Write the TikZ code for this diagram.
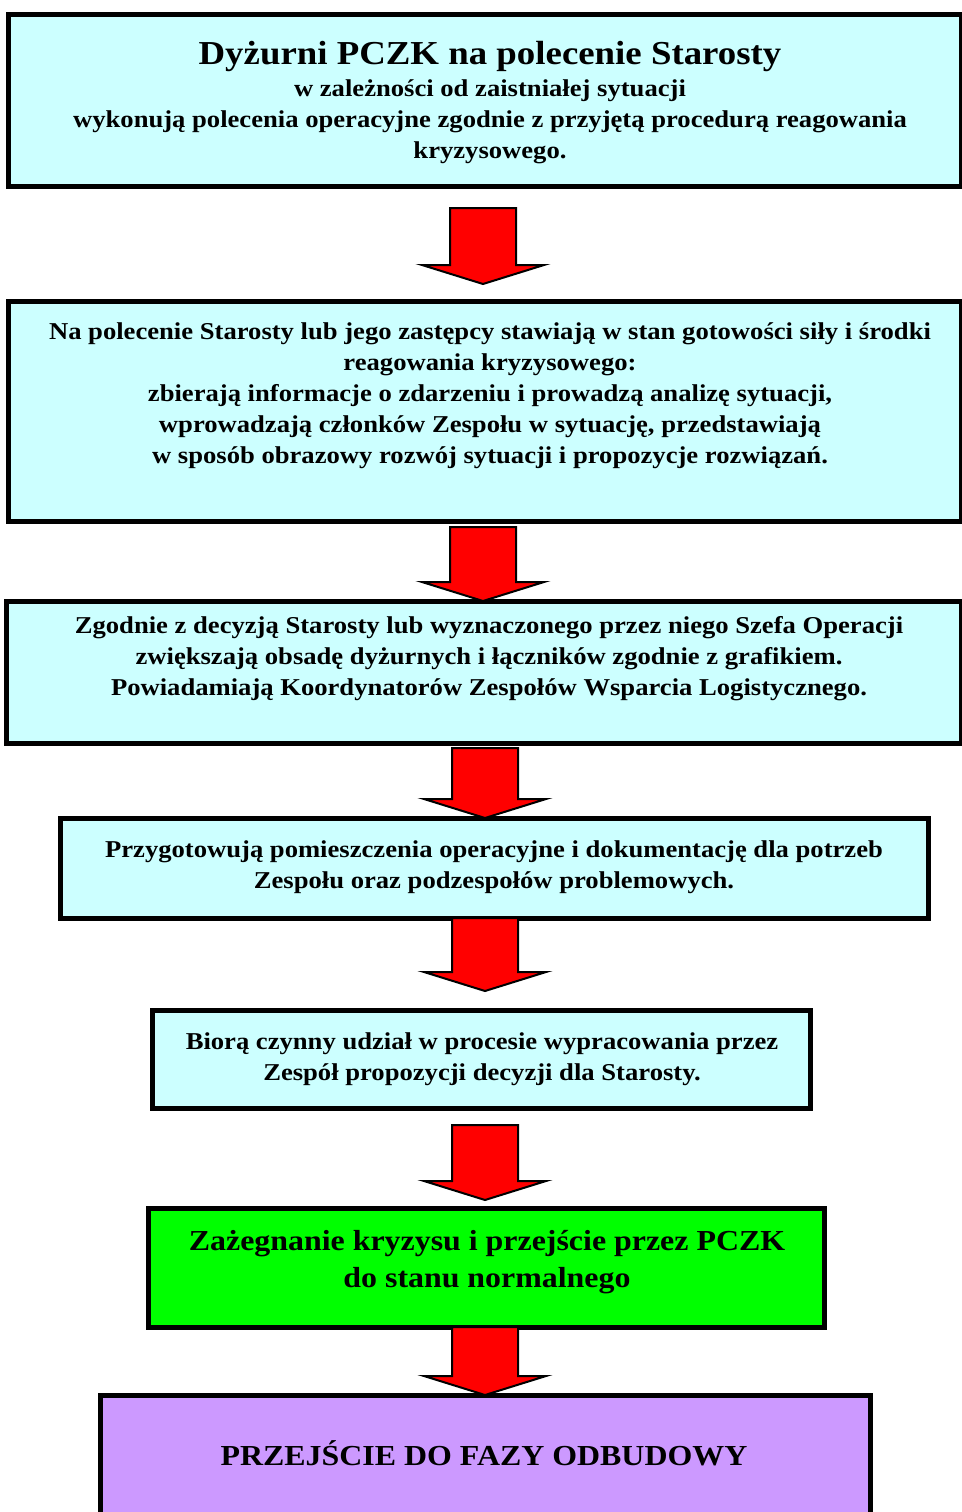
\documentclass[tikz,border=0pt]{standalone}
\usepackage{fontspec}
\setmainfont{Liberation Serif}
\newfontfamily\widefont[FakeStretch=1.1]{Liberation Serif}
\usetikzlibrary{calc}
\definecolor{boxcyan}{HTML}{CCFFFF}
\definecolor{boxgreen}{HTML}{00FF00}
\definecolor{boxpurple}{HTML}{CC99FF}
\definecolor{arrred}{HTML}{FF0000}
\tikzset{
  box/.style={draw=black, line width=5pt, fill=boxcyan, rectangle, inner sep=0pt},
  txt/.style={align=center, inner sep=0pt, font=\widefont\bfseries\fontsize{24.2}{31}\selectfont},
  bigtxt/.style={align=center, inner sep=0pt, font=\widefont\bfseries\fontsize{29}{37}\selectfont},
  blockarrow/.style={draw=black, line width=2pt, fill=arrred, line join=miter},
}
\newcommand{\blockarr}[3]{% x center, shaft top y, tip y
  \draw[blockarrow] (#1-33,#2) -- (#1+33,#2) -- (#1+33,#3-19) -- (#1+61,#3-19)
    -- (#1,#3) -- (#1-61,#3-19) -- (#1-33,#3-19) -- cycle;}
\begin{document}
\begin{tikzpicture}[x=1pt,y=-1pt]
\useasboundingbox (0,0) rectangle (961,1512);
% boxes
\node[box, minimum width=953pt, minimum height=171pt] (b1) at (484.5,100.5) {};
\node[box, minimum width=953pt, minimum height=220pt] (b2) at (484.5,411) {};
\node[box, minimum width=955pt, minimum height=142pt] (b3) at (483.5,672) {};
\node[box, minimum width=868pt, minimum height=100pt] (b4) at (494,868) {};
\node[box, minimum width=658pt, minimum height=98pt] (b5) at (481,1059) {};
\node[box, fill=boxgreen, minimum width=676pt, minimum height=119pt] (b6) at (486,1267.5) {};
\node[box, fill=boxpurple, minimum width=770pt, minimum height=140pt] (b7) at (485,1465) {};
% texts
\node[txt] (t1) at (490,103) {%
  {\fontsize{33.5}{31}\selectfont Dyżurni PCZK na polecenie Starosty}\\[1pt]
  w zależności od zaistniałej sytuacji\\
  wykonują polecenia operacyjne zgodnie z przyjętą procedurą reagowania\\
  kryzysowego.};
\node[txt] (t2) at (490,396) {Na polecenie Starosty lub jego zastępcy stawiają w stan gotowości siły i środki\\
  reagowania kryzysowego:\\
  zbierają informacje o zdarzeniu i prowadzą analizę sytuacji,\\
  wprowadzają członków Zespołu w sytuację, przedstawiają\\
  w sposób obrazowy rozwój sytuacji i propozycje rozwiązań.};
\node[txt] (t3) at (489,659) {Zgodnie z decyzją Starosty lub wyznaczonego przez niego Szefa Operacji\\
  zwiększają obsadę dyżurnych i łączników zgodnie z grafikiem.\\
  Powiadamiają Koordynatorów Zespołów Wsparcia Logistycznego.};
\node[txt] (t4) at (494,867) {Przygotowują pomieszczenia operacyjne i dokumentację dla potrzeb\\
  Zespołu oraz podzespołów problemowych.};
\node[txt] (t5) at (482,1059) {Biorą czynny udział w procesie wypracowania przez\\
  Zespół propozycji decyzji dla Starosty.};
\node[bigtxt] (t6) at (487,1262) {Zażegnanie kryzysu i przejście przez PCZK\\
  do stanu normalnego};
\node[bigtxt] (t7) at (484,1453) {PRZEJŚCIE DO FAZY ODBUDOWY};
% arrows
\blockarr{483}{208}{284}
\blockarr{483}{527}{601}
\blockarr{485}{748}{818}
\blockarr{485}{918}{991}
\blockarr{485}{1125}{1200}
\blockarr{485}{1327}{1395}
\end{tikzpicture}
\end{document}
